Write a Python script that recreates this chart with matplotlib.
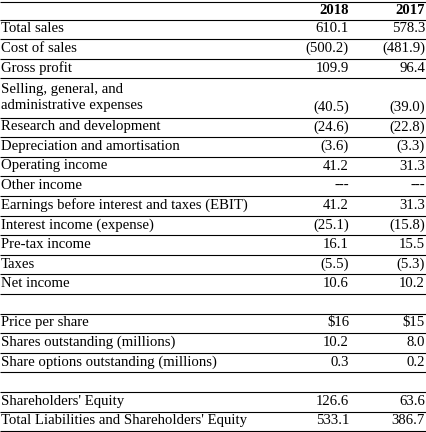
import matplotlib
matplotlib.use("Agg")
import matplotlib.pyplot as plt

labels = ["Total sales", "Cost of sales", "Gross profit",
          "Selling, general, and\nadministrative expenses",
          "Research and development", "Depreciation and amortisation",
          "Operating income", "Other income",
          "Earnings before interest and taxes (EBIT)", "Interest income (expense)",
          "Pre-tax income", "Taxes", "Net income", None,
          "Price per share", "Shares outstanding (millions)",
          "Share options outstanding (millions)", None,
          "Shareholders' Equity", "Total Liabilities and Shareholders' Equity"]
v2018 = ["610.1", "(500.2)", "109.9", "(40.5)", "(24.6)", "(3.6)", "41.2", "---",
         "41.2", "(25.1)", "16.1", "(5.5)", "10.6", None,
         "$16", "10.2", "0.3", None, "126.6", "533.1"]
v2017 = ["578.3", "(481.9)", "96.4", "(39.0)", "(22.8)", "(3.3)", "31.3", "---",
         "31.3", "(15.8)", "15.5", "(5.3)", "10.2", None,
         "$15", "8.0", "0.2", None, "63.6", "386.7"]
years = ["2018", "2017"]

W, H = 426, 432
fig = plt.figure(figsize=(W/100, H/100), dpi=100)
ax = fig.add_axes([0, 0, 1, 1])
ax.set_xlim(0, W); ax.set_ylim(H, 0); ax.axis("off")
font = dict(family="Liberation Serif", fontsize=10.6, color="black")
c1, c2 = 349, 425
RH = 19.6

def hline(y):
    ax.plot([0, W], [y, y], color="black", lw=0.8, solid_capstyle="butt")

hline(1.5)
ax.text(c1, 10, years[0], ha="right", va="center", fontweight="bold", **font)
ax.text(c2, 10, years[1], ha="right", va="center", fontweight="bold", **font)
hline(19.5)
y = 19.5
for lab, a, b in zip(labels, v2018, v2017):
    if lab is None:
        y += RH
        hline(y)
        continue
    n = 2 if "\n" in lab else 1
    top = y
    y += RH * n
    ax.text(1, top + RH * n / 2 - 0.5, lab, ha="left", va="center", linespacing=1.35, **font)
    ax.text(c1, y - RH / 2 - 0.5, a, ha="right", va="center", **font)
    ax.text(c2, y - RH / 2 - 0.5, b, ha="right", va="center", **font)
    hline(y)

fig.savefig("out.png", dpi=100)
